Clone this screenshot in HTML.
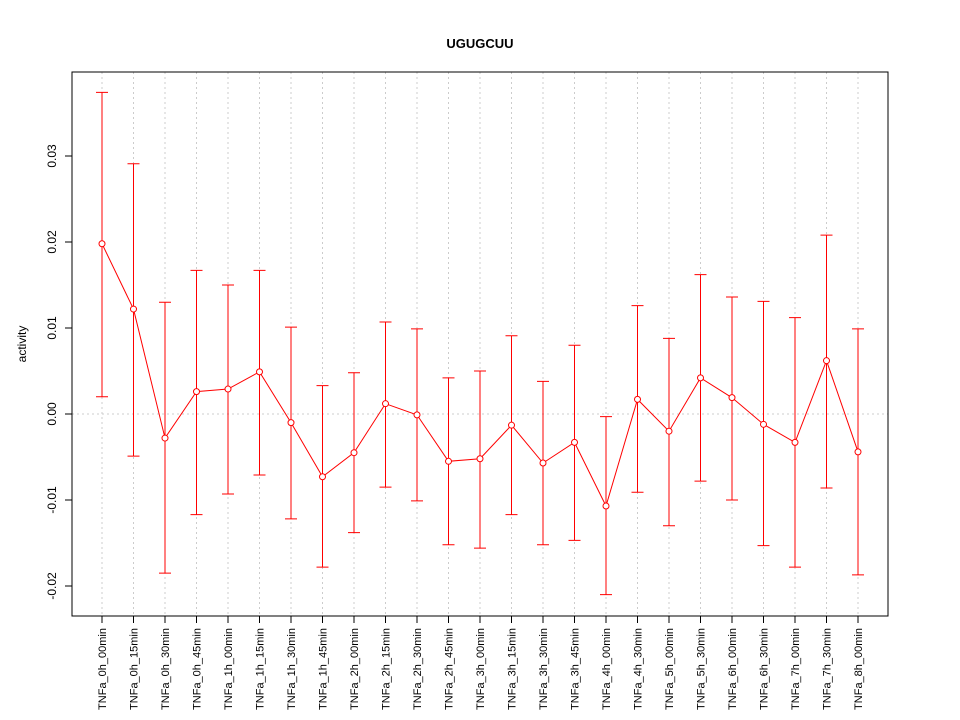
<!DOCTYPE html>
<html><head><meta charset="utf-8"><style>
body{margin:0;background:#fff}
svg{display:block;font-family:"Liberation Sans",sans-serif}
</style></head><body>
<svg id="chart" width="960" height="720">
<text x="480" y="48" text-anchor="middle" font-size="13" font-weight="bold">UGUGCUU</text>
<text transform="translate(26,344) rotate(-90)" text-anchor="middle" font-size="12">activity</text>
<g id="grid"></g><g id="axes"></g><g id="marks"></g>
<rect x="72" y="72" width="816" height="544" fill="none" stroke="#000"/>
</svg>
<script>
const categories=["TNFa_0h_00min","TNFa_0h_15min","TNFa_0h_30min","TNFa_0h_45min","TNFa_1h_00min","TNFa_1h_15min","TNFa_1h_30min","TNFa_1h_45min","TNFa_2h_00min","TNFa_2h_15min","TNFa_2h_30min","TNFa_2h_45min","TNFa_3h_00min","TNFa_3h_15min","TNFa_3h_30min","TNFa_3h_45min","TNFa_4h_00min","TNFa_4h_30min","TNFa_5h_00min","TNFa_5h_30min","TNFa_6h_00min","TNFa_6h_30min","TNFa_7h_00min","TNFa_7h_30min","TNFa_8h_00min"];
const values=[0.0198,0.0122,-0.0028,0.0026,0.0029,0.0049,-0.0010,-0.0073,-0.0045,0.0012,-0.0001,-0.0055,-0.0052,-0.0013,-0.0057,-0.0033,-0.0107,0.0017,-0.0020,0.0042,0.0019,-0.0012,-0.0033,0.0062,-0.0044];
const upper=[0.0374,0.0291,0.0130,0.0167,0.0150,0.0167,0.0101,0.0033,0.0048,0.0107,0.0099,0.0042,0.0050,0.0091,0.0038,0.0080,-0.0003,0.0126,0.0088,0.0162,0.0136,0.0131,0.0112,0.0208,0.0099];
const lower=[0.0020,-0.0049,-0.0185,-0.0117,-0.0093,-0.0071,-0.0122,-0.0178,-0.0138,-0.0085,-0.0101,-0.0152,-0.0156,-0.0117,-0.0152,-0.0147,-0.0210,-0.0091,-0.0130,-0.0078,-0.0100,-0.0153,-0.0178,-0.0086,-0.0187];
const yTicks=[-0.02,-0.01,0.00,0.01,0.02,0.03];
const yTickLabels=["-0.02","-0.01","0.00","0.01","0.02","0.03"];
const NS="http://www.w3.org/2000/svg";
const xs=i=>102+i*(858-102)/(categories.length-1);
const ys=v=>414-v*8600;
function mk(tag,attrs,parent){const e=document.createElementNS(NS,tag);for(const k in attrs)e.setAttribute(k,attrs[k]);document.getElementById(parent).appendChild(e);return e;}
const red="#ff0000";
yTicks.forEach((t,i)=>{
 const l=mk("line",{x1:65,x2:72,y1:ys(t),y2:ys(t),stroke:"#000"},"axes");
 
 
 const tx=mk("text",{transform:`translate(56,${ys(t)}) rotate(-90)`,"text-anchor":"middle","font-size":"12"},"axes");
 tx.textContent=yTickLabels[i];
 
 
});
const z=mk("line",{x1:72,x2:888,y1:ys(0),y2:ys(0),stroke:"#ccc","stroke-dasharray":"2,3"},"grid");


categories.forEach((c,i)=>{
 const x=xs(i);
 const g=mk("line",{x1:x,x2:x,y1:72,y2:616,stroke:"#ccc","stroke-dasharray":"2,3"},"grid");
 
 
 const t=mk("line",{x1:x,x2:x,y1:616,y2:623,stroke:"#000"},"axes");
 
 
 const tx=mk("text",{transform:`translate(${x+4},628) rotate(-90)`,"text-anchor":"end","font-size":"11"},"axes");
 tx.textContent=c;
 
 
 const e=mk("path",{d:`M${x},${ys(upper[i])}V${ys(lower[i])}M${x-6},${ys(upper[i])}H${x+6}M${x-6},${ys(lower[i])}H${x+6}`,stroke:red,fill:"none"},"marks");
 
 
});
const ln=mk("polyline",{points:values.map((v,i)=>xs(i)+","+ys(v)).join(" "),stroke:red,fill:"none"},"marks");


values.forEach((v,i)=>{
 const p=mk("circle",{cx:xs(i),cy:ys(v),r:3,stroke:red,fill:"#fff"},"marks");
 
 
});
</script>
</body></html>
